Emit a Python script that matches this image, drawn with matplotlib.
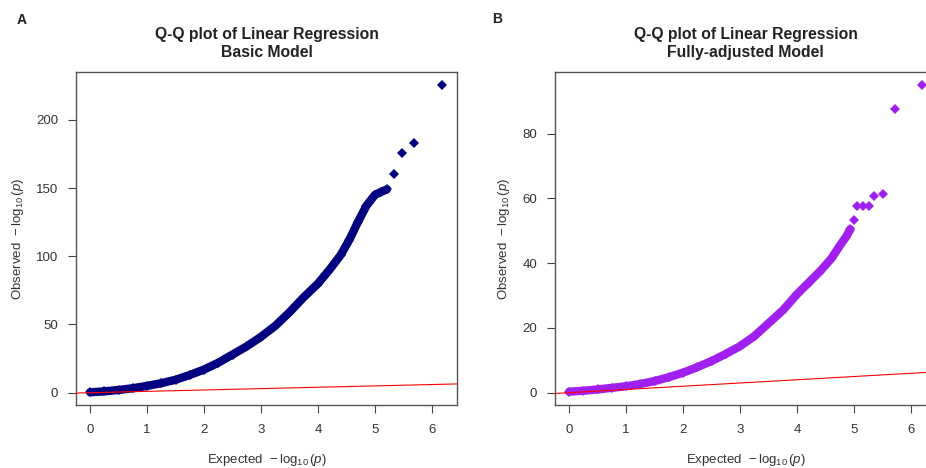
import matplotlib
matplotlib.use("Agg")
import matplotlib.pyplot as plt

plt.rcParams["font.family"] = ["Liberation Sans", "DejaVu Sans"]
plt.rcParams["mathtext.fontset"] = "custom"
plt.rcParams["mathtext.rm"] = "Liberation Sans"
plt.rcParams["mathtext.it"] = "Liberation Sans:italic"
plt.rcParams["mathtext.bf"] = "Liberation Sans:bold"

# Basic model: expected vs observed -log10(p), dense body then sparse tail
basic_expected = [0.0, 0.25, 0.5, 0.75, 1.0, 1.25, 1.5, 1.75, 2.0, 2.25, 2.5,
                  2.75, 3.0, 3.25, 3.5, 3.75, 4.0, 4.2, 4.4, 4.55, 4.7, 4.85,
                  5.0, 5.1, 5.21]
basic_observed = [0.3, 1.0, 2.0, 3.3, 5.0, 7.0, 9.5, 13.0, 17.0, 22.0, 28.0,
                  34.0, 41.0, 49.0, 59.0, 70.0, 80.0, 90.0, 101.0, 112.0,
                  125.0, 137.0, 145.0, 147.0, 149.0]
basic_tail_expected = [5.34, 5.47, 5.69, 6.18]
basic_tail_observed = [160.0, 176.0, 183.0, 225.6]

# Fully-adjusted model
full_expected = [0.0, 0.25, 0.5, 0.75, 1.0, 1.25, 1.5, 1.75, 2.0, 2.25, 2.5,
                 2.75, 3.0, 3.25, 3.5, 3.75, 4.0, 4.2, 4.4, 4.6, 4.75, 4.85,
                 4.93]
full_observed = [0.3, 0.6, 1.0, 1.5, 2.0, 2.7, 3.6, 4.8, 6.2, 7.9, 9.8, 12.0,
                 14.4, 17.5, 21.5, 25.5, 30.5, 34.0, 37.5, 41.5, 45.5, 48.0,
                 50.4]
full_tail_expected = [4.99, 5.05, 5.15, 5.25, 5.35, 5.50, 5.71, 6.18]
full_tail_observed = [53.2, 57.5, 57.5, 57.5, 60.6, 61.4, 87.7, 95.1]

x_ticks = [0, 1, 2, 3, 4, 5, 6]
basic_y_ticks = [0, 50, 100, 150, 200]
full_y_ticks = [0, 20, 40, 60, 80]

W, H = 926, 468
fig = plt.figure(figsize=(W / 100, H / 100), dpi=100)


def box(l, t, r, b):
    return [l / W, 1 - b / H, (r - l) / W, (b - t) / H]


panels = [
    dict(pos=box(76, 72, 457, 405), letter="A", lx=22, ly=20,
         title="Q-Q plot of Linear Regression\nBasic Model",
         ex=basic_expected, ob=basic_observed,
         tex=basic_tail_expected, tob=basic_tail_observed,
         color="#000080", yticks=basic_y_ticks, ylim=(-9.0, 235.0)),
    dict(pos=box(555, 72, 936.5, 405), letter="B", lx=497, ly=19,
         title="Q-Q plot of Linear Regression\nFully-adjusted Model",
         ex=full_expected, ob=full_observed,
         tex=full_tail_expected, tob=full_tail_observed,
         color="#A020F0", yticks=full_y_ticks, ylim=(-3.8, 99.0)),
]

for p in panels:
    ax = fig.add_axes(p["pos"])
    ax.plot(p["ex"], p["ob"], color=p["color"], lw=6, solid_capstyle="round",
            solid_joinstyle="round", zorder=2)
    ax.plot(p["ex"] + p["tex"], p["ob"] + p["tob"], ls="none", marker="D",
            ms=4.6, mew=0, color=p["color"], zorder=3)
    ax.axline((0, 0), slope=1, color="red", lw=0.8, zorder=4)
    ax.set_xlim(-0.248, 6.44)
    ax.set_ylim(*p["ylim"])
    ax.set_xticks(x_ticks)
    ax.set_yticks(p["yticks"])
    ax.tick_params(direction="out", length=6, width=0.8, color="#444444",
                   labelsize=9.5, labelcolor="#333333", pad=7)
    ax.tick_params(axis="x", pad=8)
    for s in ax.spines.values():
        s.set_color("#555555")
        s.set_linewidth(1.0)
    ax.set_xlabel(r"Expected  $-\,\log_{10}(p)$", fontsize=9.5, color="#333333",
                  labelpad=11)
    ax.set_ylabel(r"Observed  $-\,\log_{10}(p)$", fontsize=9.5, color="#333333",
                  labelpad=7)
    ax.set_title(p["title"], fontsize=11.3, fontweight="bold", color="#222222",
                 pad=11, linespacing=1.25)
    fig.text(p["lx"] / W, 1 - p["ly"] / H, p["letter"], fontsize=10,
             fontweight="bold", ha="center", va="center", color="#222222")

fig.savefig("out.png", dpi=100)
